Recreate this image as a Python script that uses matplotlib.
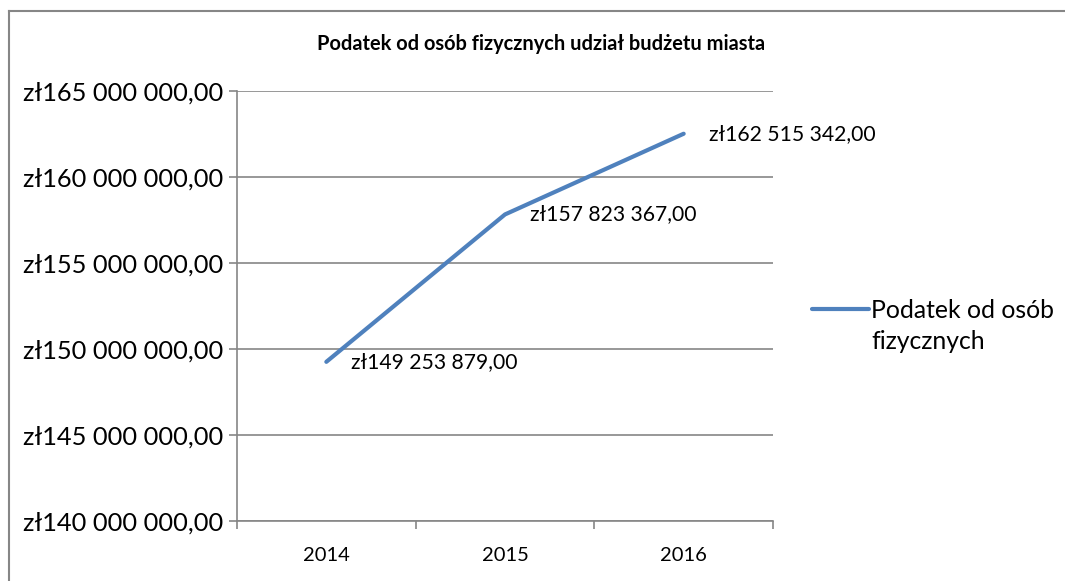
import matplotlib

matplotlib.use("Agg")
import matplotlib.pyplot as plt
from matplotlib.legend_handler import HandlerLine2D
from matplotlib.lines import Line2D
from matplotlib.ticker import FixedLocator, FuncFormatter

plt.rcParams["font.family"] = ["Lato", "DejaVu Sans"]

years = ["2014", "2015", "2016"]
values = [149253879.00, 157823367.00, 162515342.00]
series_name = "Podatek od osób\nfizycznych"
title = "Podatek od osób fizycznych udział budżetu miasta"
y_ticks = [140e6, 145e6, 150e6, 155e6, 160e6, 165e6]

BLUE = "#4F81BD"
GRID = "#868686"
W, H = 1065, 581


def pln(v, pos=None):
    whole = f"{int(round(v)):,}".replace(",", " ")
    cents = int(round((v - int(v)) * 100))
    return f"zł{whole},{cents:02d}"


class FirstLineHandler(HandlerLine2D):
    # excel puts the legend line next to the first text line, not the middle
    def create_artists(self, legend, orig_handle, xdescent, ydescent,
                       width, height, fontsize, trans):
        arts = super().create_artists(legend, orig_handle, xdescent, ydescent,
                                      width, height, fontsize, trans)
        for a in arts:
            a.set_ydata([(height - ydescent) / 2 + 13] * len(a.get_xdata()))
        return arts


fig = plt.figure(figsize=(W / 100, H / 100), dpi=100)
ax = fig.add_axes([237 / W, 1 - 521 / H, (773 - 237) / W, (521 - 91) / H])

x = list(range(len(years)))
ln, = ax.plot(x, values, color=BLUE, lw=3, solid_capstyle="round",
              solid_joinstyle="round", label=series_name)

for xi, v in zip(x, values):
    ax.annotate(pln(v), (xi, v), xytext=(18, 0), textcoords="offset points",
                va="center", ha="left", fontsize=15.2, color="black")

ax.set_xlim(-0.5, len(years) - 0.5)
ax.set_ylim(y_ticks[0], y_ticks[-1])
ax.yaxis.set_major_locator(FixedLocator(y_ticks))
ax.yaxis.set_major_formatter(FuncFormatter(pln))
ax.set_xticks(x)
ax.set_xticklabels(years)
ax.set_xticks([i - 0.5 for i in range(len(years) + 1)], minor=True)
ax.tick_params(axis="x", which="major", length=0, pad=19, labelsize=14.5)
ax.tick_params(axis="x", which="minor", length=6, width=1.2, color=GRID)
ax.tick_params(axis="y", length=6, width=1.2, color=GRID, labelsize=18.3, pad=4)
ax.grid(axis="y", color=GRID, lw=1.2)
ax.set_axisbelow(True)
for side in ("top", "right"):
    ax.spines[side].set_visible(False)
for side in ("left", "bottom"):
    ax.spines[side].set_color(GRID)
    ax.spines[side].set_linewidth(1.2)

fig.text(541 / W, 1 - 44 / H, title, ha="center", va="center",
         fontsize=14.4, fontweight="bold")

leg = fig.legend(handles=[ln], loc="center left",
                 bbox_to_anchor=(812 / W, 1 - 326 / H), frameon=False,
                 fontsize=17.8, handlelength=2.3, handletextpad=0.1,
                 borderaxespad=0, borderpad=0,
                 handler_map={ln: FirstLineHandler()})
leg.get_texts()[0].set_linespacing(1.45)

top = 1 - 11 / H
left = 9 / W
fig.lines.append(Line2D([left, left], [0, top], transform=fig.transFigure,
                        color=GRID, lw=1.5))
fig.lines.append(Line2D([left, 1], [top, top], transform=fig.transFigure,
                        color=GRID, lw=1.5))

fig.savefig("out.png", dpi=100)
